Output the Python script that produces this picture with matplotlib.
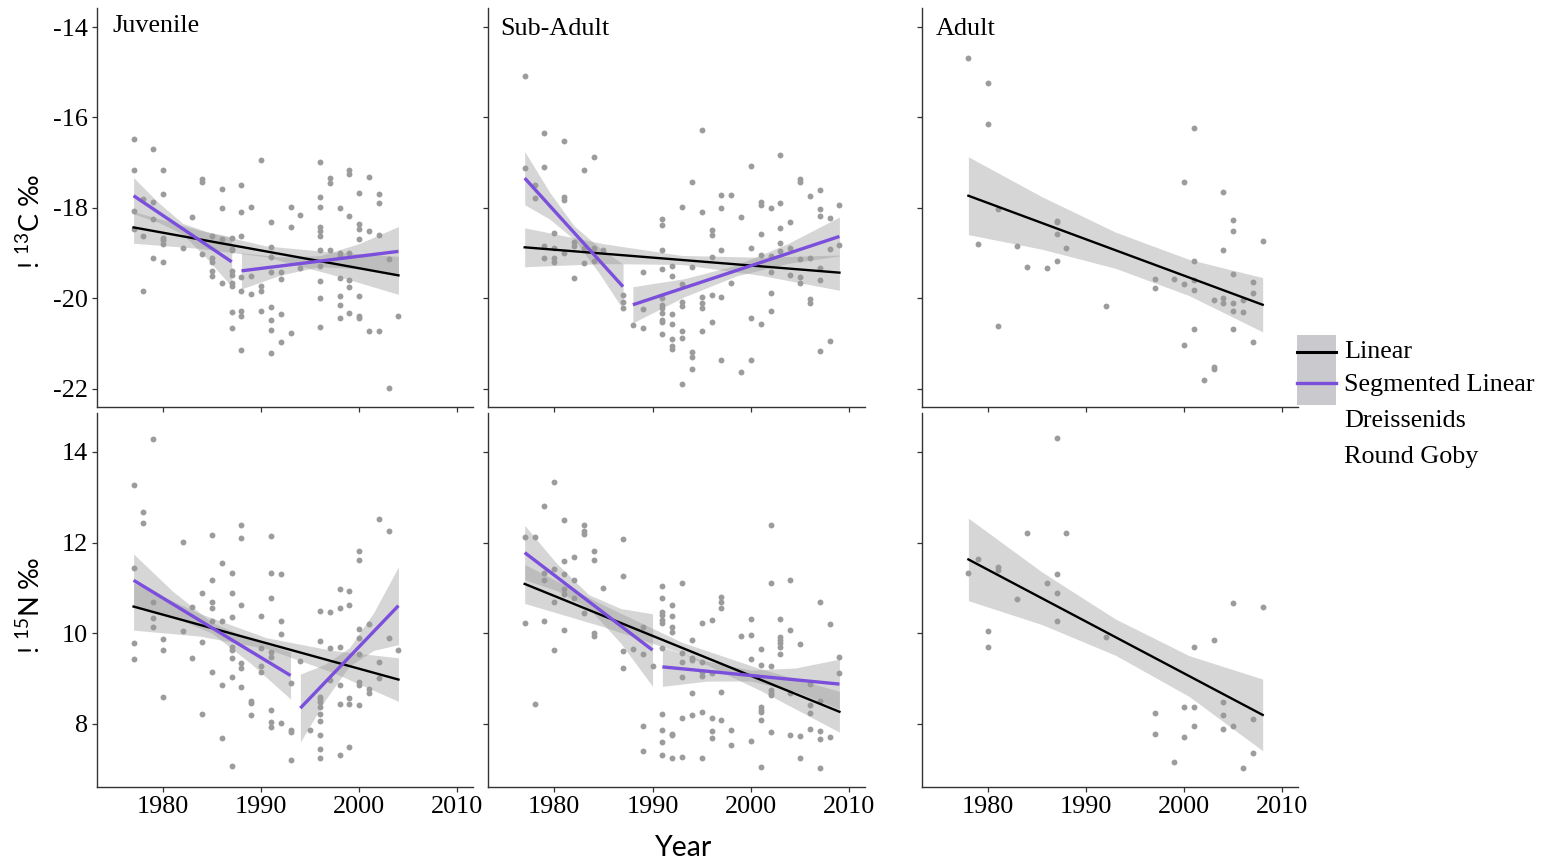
import matplotlib.pyplot as plt
from matplotlib.patches import Rectangle
from matplotlib.lines import Line2D
import numpy as np

plt.rcParams['font.family'] = ['Liberation Serif', 'DejaVu Serif']
plt.rcParams['axes.unicode_minus'] = False

# ---- scatter data: year -> values ----
juv_c = {
    1977: [-16.48, -17.16, -18.06, -18.47], 1978: [-17.80, -18.63, -19.83],
    1979: [-16.70, -17.87, -18.24, -19.11], 1980: [-17.15, -17.70, -18.66, -18.71, -18.80, -19.19],
    1982: [-18.89], 1983: [-18.20], 1984: [-17.36, -17.43, -19.02],
    1985: [-18.63, -19.10, -19.20, -19.39, -19.50], 1986: [-17.57, -17.99, -18.68, -19.66],
    1987: [-18.67, -18.90, -18.94, -19.39, -19.49, -19.66, -19.72, -20.31, -20.65],
    1988: [-17.49, -18.09, -18.61, -19.53, -19.83, -20.27, -20.39, -21.15],
    1989: [-17.97, -19.50, -19.91], 1990: [-16.94, -19.73, -19.83, -20.28],
    1991: [-18.30, -18.87, -19.09, -19.41, -20.19, -20.48, -20.70, -21.20],
    1992: [-19.41, -19.58, -20.34, -20.97], 1993: [-17.98, -18.41, -20.77], 1994: [-18.15, -19.33],
    1996: [-16.99, -17.76, -17.97, -18.42, -18.52, -18.62, -18.94, -19.28, -19.61, -20.00, -20.64],
    1997: [-17.34, -17.45, -18.93], 1998: [-18.00, -19.00, -19.06, -19.55, -19.94, -20.14, -20.44],
    1999: [-17.15, -17.25, -18.18, -19.00, -19.59, -19.75, -20.33],
    2000: [-17.68, -18.35, -18.46, -18.69, -19.95, -20.39, -20.44],
    2001: [-17.31, -18.52, -20.72], 2002: [-17.70, -17.89, -18.60, -20.72],
    2003: [-19.13, -21.99], 2004: [-20.39],
}
sub_c = {
    1977: [-15.08, -17.12], 1978: [-17.49, -17.79], 1979: [-16.35, -17.09, -18.84, -19.11],
    1980: [-18.55, -18.89, -19.11, -19.19], 1981: [-16.52, -17.76, -17.82, -19.00],
    1982: [-18.76, -18.85, -19.54], 1983: [-17.16, -18.89, -19.22], 1984: [-16.88, -18.89, -19.17],
    1985: [-18.94], 1987: [-19.92, -20.07, -20.22], 1988: [-20.59], 1989: [-19.41, -20.23, -20.65],
    1991: [-18.24, -18.38, -18.93, -19.36, -19.99, -20.14, -20.22, -20.33, -20.48, -20.51, -20.79],
    1992: [-19.28, -19.50, -20.35, -20.57, -20.89, -21.06, -21.12],
    1993: [-17.97, -19.69, -20.08, -20.17, -20.72, -20.88, -21.90],
    1994: [-17.43, -19.31, -21.19, -21.30, -21.57],
    1995: [-16.28, -18.08, -19.97, -20.11, -20.22, -20.72],
    1996: [-18.48, -18.59, -19.09, -19.92, -20.53], 1997: [-17.72, -18.01, -18.92, -19.97, -21.35],
    1998: [-17.71, -19.66], 1999: [-18.20, -21.62], 2000: [-17.08, -18.88, -20.43, -21.35],
    2001: [-17.87, -17.93, -18.57, -19.05, -20.56], 2002: [-18.00, -19.06, -19.41, -19.89, -20.28],
    2003: [-16.84, -17.90, -18.44, -18.77, -18.96], 2004: [-18.32, -18.89, -19.49],
    2005: [-17.36, -17.43, -19.13, -19.52, -19.65], 2006: [-17.73, -19.11, -20.01, -20.11],
    2007: [-17.61, -18.02, -18.17, -19.33, -19.60, -21.16], 2008: [-18.22, -18.90, -20.95],
    2009: [-17.94, -18.81],
}
adu_c = {
    1978: [-14.68], 1979: [-18.80], 1980: [-15.23, -16.15], 1981: [-18.02, -20.62],
    1983: [-18.83], 1984: [-19.31], 1986: [-19.32], 1987: [-18.28, -18.32, -18.58, -19.17],
    1988: [-18.89], 1992: [-20.17], 1997: [-19.58, -19.78], 1999: [-19.57],
    2000: [-17.42, -19.69, -21.02], 2001: [-16.23, -19.17, -19.59, -19.81, -20.67],
    2002: [-21.81], 2003: [-20.03, -21.51, -21.57], 2004: [-17.65, -18.93, -19.98, -20.11],
    2005: [-18.27, -18.52, -19.46, -20.11, -20.27, -20.68], 2006: [-20.03, -20.31],
    2007: [-19.64, -19.87, -20.97], 2008: [-18.72],
}
juv_n = {
    1977: [13.27, 11.44, 9.78, 9.43], 1978: [12.67, 12.44], 1979: [14.29, 10.69, 10.33, 10.13],
    1980: [9.87, 9.64, 8.60], 1982: [12.02, 10.05], 1983: [10.59, 9.45], 1984: [10.89, 9.81, 8.23],
    1985: [12.17, 11.17, 10.69, 10.55, 10.28, 9.15], 1986: [11.56, 10.28, 8.87, 7.70],
    1987: [11.32, 10.89, 10.37, 9.70, 9.63, 9.45, 9.03, 7.07],
    1988: [12.39, 12.11, 10.62, 9.34, 9.24, 8.81], 1989: [8.51, 8.47, 8.20],
    1990: [10.38, 9.67, 9.29, 9.14], 1991: [12.15, 11.32, 10.78, 9.59, 9.48, 8.30, 8.04, 7.93],
    1992: [11.31, 10.28, 9.99, 8.02], 1993: [8.91, 7.87, 7.83, 7.20], 1994: [9.40], 1995: [7.86],
    1996: [10.49, 9.83, 8.60, 8.55, 8.49, 8.37, 8.23, 8.07, 7.76, 7.44, 7.25],
    1997: [10.47, 9.68, 8.96], 1998: [10.98, 10.56, 9.70, 8.85, 8.43, 7.31],
    1999: [10.93, 10.63, 8.58, 8.43, 7.49], 2000: [11.82, 11.61, 10.09, 9.90, 9.54, 8.93, 8.86, 8.41],
    2001: [10.20, 8.77, 8.68], 2002: [12.53, 9.37, 9.01], 2003: [12.26, 9.90], 2004: [9.64],
}
sub_n = {
    1977: [12.13, 10.22], 1978: [12.13, 8.43], 1979: [12.80, 11.34, 11.17, 10.28],
    1980: [13.33, 11.42, 10.69, 9.64], 1981: [12.51, 11.59, 11.31, 10.98, 10.86, 10.08],
    1982: [11.69, 11.17, 10.78], 1983: [12.40, 12.26, 12.20, 10.45], 1984: [11.81, 11.61, 10.00, 9.94],
    1985: [11.00], 1987: [12.07, 11.26, 9.62, 9.24], 1988: [9.65], 1989: [10.13, 9.54, 7.96, 7.41],
    1990: [9.29], 1991: [11.05, 10.77, 10.46, 10.40, 10.29, 10.23, 9.68, 8.23, 7.86, 7.60, 7.31],
    1992: [10.63, 10.39, 10.15, 10.02, 7.79, 7.76, 7.25], 1993: [11.11, 9.56, 9.36, 9.04, 8.13, 7.27],
    1994: [9.85, 9.46, 9.41, 8.68, 8.20], 1995: [10.23, 9.37, 9.15, 9.06, 8.27, 7.25],
    1996: [10.29, 9.12, 8.13, 7.85, 7.69], 1997: [10.80, 10.70, 10.55, 8.71, 8.09],
    1998: [7.87, 7.53], 1999: [9.93], 2000: [10.31, 9.97, 9.43, 7.63],
    2001: [9.65, 9.30, 8.37, 8.31, 8.26, 8.09, 7.05], 2002: [12.38, 11.11, 9.28, 8.74, 8.69, 8.63, 7.82],
    2003: [10.32, 9.92, 9.85, 9.78, 9.70, 9.54], 2004: [11.17, 10.07, 8.68, 7.75],
    2005: [9.76, 7.73, 7.25], 2006: [8.88, 8.42, 8.25, 7.88], 2007: [10.69, 8.51, 7.85, 7.66, 7.02],
    2008: [10.20, 7.71], 2009: [9.48, 9.12],
}
adu_n = {
    1978: [11.34], 1979: [11.63], 1980: [10.06, 9.70], 1981: [11.46, 11.39], 1983: [10.75],
    1984: [12.22], 1986: [11.11], 1987: [14.30, 11.30, 10.89, 10.28], 1988: [12.22], 1992: [9.91],
    1997: [8.24, 7.77], 1999: [7.17], 2000: [8.38, 7.71], 2001: [9.70, 8.38, 7.96], 2003: [9.86],
    2004: [8.49, 8.19, 7.90], 2005: [10.67, 7.95], 2006: [7.03], 2007: [8.10, 7.37], 2008: [10.59],
}

# ---- fitted lines: (kind, year start, year end, value start, value end, band half-widths) ----
juv_c_fits = [('lin', 1977, 2004, -18.43, -19.49, [0.35, 0.20, 0.12, 0.25, 0.42]),
              ('seg', 1977, 1987, -17.73, -19.19, [0.40, 0.22, 0.12, 0.30, 0.55]),
              ('seg', 1988, 2004, -19.39, -18.96, [0.40, 0.20, 0.12, 0.28, 0.55])]
sub_c_fits = [('lin', 1977, 2009, -18.87, -19.43, [0.43, 0.22, 0.10, 0.20, 0.39]),
              ('seg', 1977, 1987, -17.34, -19.74, [0.59, 0.30, 0.15, 0.28, 0.50]),
              ('seg', 1988, 2009, -20.14, -18.63, [0.40, 0.20, 0.12, 0.22, 0.43])]
adu_c_fits = [('lin', 1978, 2008, -17.73, -20.14, [0.86, 0.58, 0.40, 0.40, 0.60])]
juv_n_fits = [('lin', 1977, 2004, 10.59, 8.98, [0.52, 0.25, 0.12, 0.24, 0.48]),
              ('seg', 1977, 1993, 11.17, 9.07, [0.58, 0.28, 0.12, 0.27, 0.52]),
              ('seg', 1994, 2004, 8.35, 10.61, [0.75, 0.40, 0.20, 0.42, 0.86])]
sub_n_fits = [('lin', 1977, 2009, 11.09, 8.27, [0.43, 0.24, 0.12, 0.24, 0.45]),
              ('seg', 1977, 1990, 11.78, 9.63, [0.60, 0.30, 0.15, 0.38, 0.80]),
              ('seg', 1991, 2009, 9.26, 8.88, [0.43, 0.22, 0.12, 0.26, 0.55])]
adu_n_fits = [('lin', 1978, 2008, 11.63, 8.20, [0.91, 0.58, 0.40, 0.45, 0.79])]

stage_names = ['Juvenile', 'Sub-Adult', 'Adult']
c_ticks = [-22, -20, -18, -16, -14]
n_ticks = [8, 10, 12, 14]
year_ticks = [1980, 1990, 2000, 2010]
legend_labels = ['Linear', 'Segmented Linear', 'Dreissenids', 'Round Goby']

W, H = 1541, 863
fig = plt.figure(figsize=(W / 100, H / 100), dpi=100)
serif_size = 18.8


def box(l, t, r, b):
    return [l / W, 1 - b / H, (r - l) / W, (b - t) / H]


col_x = [(97, 473), (488, 865), (922, 1298)]
top_rows = (8, 407)
bot_rows = (413, 787)

panels = [
    (juv_c, juv_c_fits, 0, 'c'), (sub_c, sub_c_fits, 1, 'c'), (adu_c, adu_c_fits, 2, 'c'),
    (juv_n, juv_n_fits, 0, 'n'), (sub_n, sub_n_fits, 1, 'n'), (adu_n, adu_n_fits, 2, 'n'),
]

for data, fits, col, row in panels:
    l, r = col_x[col]
    t, b = top_rows if row == 'c' else bot_rows
    ax = fig.add_axes(box(l, t, r, b))
    xs = [y for y, vals in data.items() for _ in vals]
    ys = [v for vals in data.values() for v in vals]
    ax.scatter(xs, ys, s=18, color='#9c9c9c', linewidths=0, zorder=2)
    for kind, x0, x1, y0, y1, hw in fits:
        bx = np.linspace(x0, x1, len(hw))
        cy = np.interp(bx, [x0, x1], [y0, y1])
        hw = np.array(hw)
        ax.fill_between(bx, cy - hw, cy + hw, color='#999999', alpha=0.4, lw=0, zorder=3)
    for kind, x0, x1, y0, y1, hw in fits:
        if kind == 'lin':
            ax.plot([x0, x1], [y0, y1], color='black', lw=1.7, zorder=4)
        else:
            ax.plot([x0, x1], [y0, y1], color='#7b4fdc', lw=2.4, zorder=5, solid_capstyle='butt')
    ax.set_xlim(1973.27, 2011.6)
    ax.set_xticks(year_ticks)
    if row == 'c':
        ax.set_ylim(-22.4, -13.58)
        ax.set_yticks(c_ticks)
        ax.tick_params(axis='x', labelbottom=False)
    else:
        ax.set_ylim(6.61, 14.86)
        ax.set_yticks(n_ticks)
    if col > 0:
        ax.tick_params(axis='y', labelleft=False)
    for side in ['top', 'right']:
        ax.spines[side].set_visible(False)
    for side in ['left', 'bottom']:
        ax.spines[side].set_color('#333333')
        ax.spines[side].set_linewidth(1.0)
    ax.tick_params(length=3.5, width=0.9, color='#333333', labelsize=serif_size, pad=3)

# panel titles
fig.text(112 / W, 1 - 26 / H, stage_names[0], fontsize=serif_size, va='center', ha='left')
fig.text(500 / W, 1 - 29 / H, stage_names[1], fontsize=serif_size, va='center', ha='left')
fig.text(936 / W, 1 - 29 / H, stage_names[2], fontsize=serif_size, va='center', ha='left')

# axis labels
sans = ['Lato', 'DejaVu Sans']
fig.text(31 / W, 1 - 222 / H, '! $^{\\mathregular{13}}$C \u2030', rotation=90, fontsize=19.5,
         family=sans, ha='center', va='center')
fig.text(31 / W, 1 - 605 / H, '! $^{\\mathregular{15}}$N \u2030', rotation=90, fontsize=19.5,
         family=sans, ha='center', va='center')
fig.text(684 / W, 1 - 848 / H, 'Year', fontsize=20.5, family=sans, ha='center', va='center')

# legend (drawn by hand)
fig.add_artist(Rectangle((1297 / W, 1 - 405 / H), 39 / W, 70 / H, transform=fig.transFigure,
                         facecolor='#cacace', edgecolor='none'))
fig.add_artist(Line2D([1297 / W, 1336 / W], [1 - 352 / H] * 2, transform=fig.transFigure,
                      color='black', lw=2.2))
fig.add_artist(Line2D([1297 / W, 1336 / W], [1 - 383 / H] * 2, transform=fig.transFigure,
                      color='#7b4fdc', lw=2.4))
for lab, yy in zip(legend_labels, [352, 385, 421, 457]):
    fig.text(1344 / W, 1 - yy / H, lab, fontsize=serif_size, va='center', ha='left')

fig.savefig('out.png', dpi=100)
